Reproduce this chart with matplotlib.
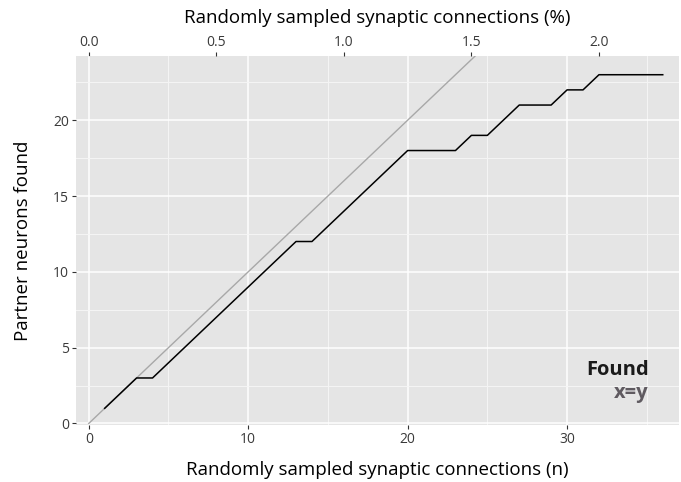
import numpy as np
import matplotlib.pyplot as plt
from matplotlib.ticker import MultipleLocator, FixedLocator

plt.rcParams['font.family'] = ['Open Sans', 'DejaVu Sans']

# cumulative partner neurons found vs. number of sampled synaptic connections
n_sampled = [1, 2, 3, 4, 5, 6, 7, 8, 9, 10, 11, 12, 13, 14, 15, 16, 17, 18,
             19, 20, 21, 22, 23, 24, 25, 26, 27, 28, 29, 30, 31, 32, 33, 34, 35, 36]
partners_found = [1, 2, 3, 3, 4, 5, 6, 7, 8, 9, 10, 11, 12, 12, 13, 14, 15, 16,
                  17, 18, 18, 18, 18, 19, 19, 20, 21, 21, 21, 22, 22, 23, 23, 23, 23, 23]
identity_x = [0, 25]
pct_ticks = [0.0, 0.5, 1.0, 1.5, 2.0]
total_connections = 1600  # used for the % axis on top

fig = plt.figure(figsize=(6.81, 4.82), dpi=100)
ax = fig.add_axes([0.1116, 0.1183, 0.885, 0.766])
ax.set_facecolor('#e5e5e5')
for s in ax.spines.values():
    s.set_visible(False)

ax.xaxis.set_major_locator(MultipleLocator(10))
ax.xaxis.set_minor_locator(MultipleLocator(5))
ax.yaxis.set_major_locator(MultipleLocator(5))
ax.yaxis.set_minor_locator(MultipleLocator(2.5))
ax.grid(True, which='major', color='white', lw=1.1)
ax.grid(True, which='minor', color='#f5f5f5', lw=0.7)
ax.set_axisbelow(True)
ax.tick_params(which='minor', length=0)
ax.tick_params(which='major', length=3, color='#333333', labelcolor='#3a3a3a',
               labelsize=10, pad=2)

ax.plot(identity_x, identity_x, color='#a8a8a8', lw=1.0)
ax.plot(n_sampled, partners_found, color='black', lw=1.1)

ax.set_xlim(-0.8, 37.0)
ax.set_ylim(-0.1, 24.25)

ax.set_xlabel('Randomly sampled synaptic connections (n)', fontsize=13.5, labelpad=10)
ax.set_ylabel('Partner neurons found', fontsize=13.5, labelpad=15)

top = ax.secondary_xaxis('top', functions=(lambda n: n / total_connections * 100,
                                           lambda p: p * total_connections / 100))
top.xaxis.set_major_locator(FixedLocator(pct_ticks))
top.xaxis.set_major_formatter(plt.FormatStrFormatter('%.1f'))
top.tick_params(length=3, color='#333333', labelcolor='#3a3a3a', labelsize=10, pad=1)
for s in top.spines.values():
    s.set_visible(False)
top.set_xlabel('Randomly sampled synaptic connections (%)', fontsize=13.5, labelpad=9)

ax.text(0.95, 0.135, 'Found', transform=ax.transAxes, ha='right', va='baseline',
        fontsize=14.5, fontweight='bold', color='#1a1a1a')
ax.text(0.95, 0.073, 'x=y', transform=ax.transAxes, ha='right', va='baseline',
        fontsize=14.5, fontweight='bold', color='#5f5a60')

fig.savefig('out.png', dpi=100)
